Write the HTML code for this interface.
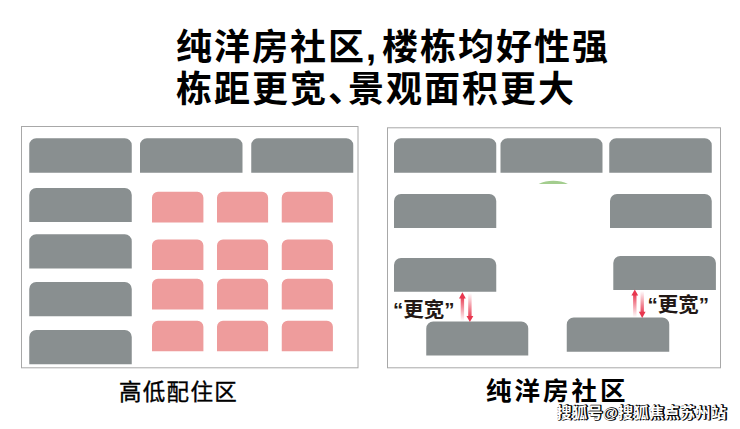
<!DOCTYPE html>
<html><head><meta charset="utf-8"><title>diagram</title><style>html,body{margin:0;padding:0;background:#fff}body{width:740px;height:429px;overflow:hidden;font-family:"Liberation Sans",sans-serif}svg{display:block}</style></head><body>
<svg width="740" height="429" viewBox="0 0 740 429">
<rect x="21.5" y="126.5" width="336.5" height="241.3" fill="#fff" stroke="#a8a8a8" stroke-width="1"/>
<rect x="387.5" y="127.8" width="333" height="240" fill="#fff" stroke="#a8a8a8" stroke-width="1"/>
<path fill="#898f90" d="M29.25 172.75V145.25A7 7 0 0 1 36.25 138.25H124.75A7 7 0 0 1 131.75 145.25V172.75ZM140 172.75V145.25A7 7 0 0 1 147 138.25H235.5A7 7 0 0 1 242.5 145.25V172.75ZM251.25 172.75V145.25A7 7 0 0 1 258.25 138.25H346.25A7 7 0 0 1 353.25 145.25V172.75ZM29.25 222V195A7 7 0 0 1 36.25 188H124.75A7 7 0 0 1 131.75 195V222ZM29.25 268.5V241.25A7 7 0 0 1 36.25 234.25H124.75A7 7 0 0 1 131.75 241.25V268.5ZM29.25 316.25V289A7 7 0 0 1 36.25 282H124.75A7 7 0 0 1 131.75 289V316.25ZM29.25 364.25V337A7 7 0 0 1 36.25 330H124.75A7 7 0 0 1 131.75 337V364.25ZM394 172.75V145.25A7 7 0 0 1 401 138.25H489.25A7 7 0 0 1 496.25 145.25V172.75ZM500.5 172.75V145.25A7 7 0 0 1 507.5 138.25H595.5A7 7 0 0 1 602.5 145.25V172.75ZM609.25 172.75V145.25A7 7 0 0 1 616.25 138.25H704.75A7 7 0 0 1 711.75 145.25V172.75ZM394 228V201A7 7 0 0 1 401 194H489.25A7 7 0 0 1 496.25 201V228ZM610 228V201A7 7 0 0 1 617 194H704.75A7 7 0 0 1 711.75 201V228ZM394 291.75V265A7 7 0 0 1 401 258H489.25A7 7 0 0 1 496.25 265V291.75ZM613.3 290V263A7 7 0 0 1 620.3 256H708.9A7 7 0 0 1 715.9 263V290ZM426.25 355.5V328.5A7 7 0 0 1 433.25 321.5H521.25A7 7 0 0 1 528.25 328.5V355.5ZM566.75 351.75V324.5A7 7 0 0 1 573.75 317.5H662.25A7 7 0 0 1 669.25 324.5V351.75Z"/>
<path fill="#ee9c9c" d="M152 222.4V197.75A6 6 0 0 1 158 191.75H197.4A6 6 0 0 1 203.4 197.75V222.4ZM152 270V245.5A6 6 0 0 1 158 239.5H197.4A6 6 0 0 1 203.4 245.5V270ZM152 309.6V284.75A6 6 0 0 1 158 278.75H197.4A6 6 0 0 1 203.4 284.75V309.6ZM152 351.3V326.75A6 6 0 0 1 158 320.75H197.4A6 6 0 0 1 203.4 326.75V351.3ZM217 222.4V197.75A6 6 0 0 1 223 191.75H262.1A6 6 0 0 1 268.1 197.75V222.4ZM217 270V245.5A6 6 0 0 1 223 239.5H262.1A6 6 0 0 1 268.1 245.5V270ZM217 309.6V284.75A6 6 0 0 1 223 278.75H262.1A6 6 0 0 1 268.1 284.75V309.6ZM217 351.3V326.75A6 6 0 0 1 223 320.75H262.1A6 6 0 0 1 268.1 326.75V351.3ZM281.75 222.4V197.75A6 6 0 0 1 287.75 191.75H326.9A6 6 0 0 1 332.9 197.75V222.4ZM281.75 270V245.5A6 6 0 0 1 287.75 239.5H326.9A6 6 0 0 1 332.9 245.5V270ZM281.75 309.6V284.75A6 6 0 0 1 287.75 278.75H326.9A6 6 0 0 1 332.9 284.75V309.6ZM281.75 351.3V326.75A6 6 0 0 1 287.75 320.75H326.9A6 6 0 0 1 332.9 326.75V351.3Z"/>
<path fill="#a3cd8e" d="M538.7 184C543 181.8 548 180.8 553.3 180.8S563.6 181.8 567.9 184Z"/>
<defs><linearGradient id="gu" x1="0" y1="0" x2="0" y2="1"><stop offset="0" stop-color="#e8374f"/><stop offset="1" stop-color="#e8374f" stop-opacity="0"/></linearGradient><linearGradient id="gd" x1="0" y1="0" x2="0" y2="1"><stop offset="0" stop-color="#e8374f" stop-opacity="0"/><stop offset="1" stop-color="#e8374f"/></linearGradient></defs>
<rect x="460.7" y="296.3" width="3.4" height="24.9" fill="url(#gu)"/><path fill="#e8374f" d="M462.4 292.3L465.8 298.5H459Z"/><rect x="468.2" y="293" width="3.4" height="25.1" fill="url(#gd)"/><path fill="#e8374f" d="M469.9 322.1L473.3 315.9H466.5Z"/>
<rect x="633.1" y="293.4" width="3.4" height="24" fill="url(#gu)"/><path fill="#e8374f" d="M634.8 289.4L638.2 295.6H631.4Z"/><rect x="640.5" y="291" width="3.4" height="22.9" fill="url(#gd)"/><path fill="#e8374f" d="M642.2 317.9L645.6 311.7H638.8Z"/>
<text x="176" y="60" font-family="&quot;Liberation Sans&quot;, &quot;Noto Sans CJK SC&quot;, sans-serif" font-size="36" font-weight="bold" letter-spacing="2" fill="#000">纯洋房社区,<tspan dx="4">楼栋均好性强</tspan></text>
<text x="176" y="102" font-family="&quot;Liberation Sans&quot;, &quot;Noto Sans CJK SC&quot;, sans-serif" font-size="36" font-weight="bold" letter-spacing="2" fill="#000">栋距更宽、<tspan dx="-18">景观面积更大</tspan></text>
<text x="119" y="400" font-family="&quot;Liberation Sans&quot;, &quot;Noto Sans CJK SC&quot;, sans-serif" font-size="22.5" letter-spacing="1.3" fill="#000" stroke="#000" stroke-width="0.35">高低配住区</text>
<text x="486" y="400" font-family="&quot;Liberation Sans&quot;, &quot;Noto Sans CJK SC&quot;, sans-serif" font-size="25.5" font-weight="bold" letter-spacing="3" fill="#000">纯洋房社区</text>
<text x="393" y="317" font-family="&quot;Liberation Sans&quot;, &quot;Noto Sans CJK SC&quot;, sans-serif" font-size="20.5" font-weight="bold" fill="#231815">“更宽”</text>
<text x="647.5" y="312.4" font-family="&quot;Liberation Sans&quot;, &quot;Noto Sans CJK SC&quot;, sans-serif" font-size="20.5" font-weight="bold" fill="#231815">“更宽”</text>
<text x="556.5" y="417.5" font-family="&quot;Liberation Sans&quot;, &quot;Noto Sans CJK SC&quot;, sans-serif" font-size="15.2" font-weight="bold" letter-spacing="0.3" fill="#000" stroke="#000" stroke-width="1.3" stroke-linejoin="round" transform="translate(0.9 0.9)">搜狐号@搜狐焦点苏州站</text>
<text x="556.5" y="417.5" font-family="&quot;Liberation Sans&quot;, &quot;Noto Sans CJK SC&quot;, sans-serif" font-size="15.2" font-weight="bold" letter-spacing="0.3" fill="#fff">搜狐号@搜狐焦点苏州站</text>
</svg>
</body></html>
